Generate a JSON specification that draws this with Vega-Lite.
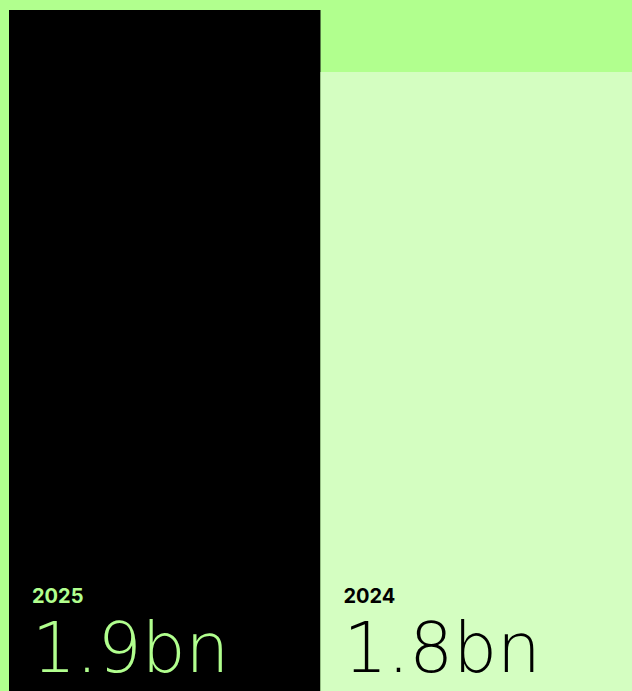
{
  "$schema": "https://vega.github.io/schema/vega-lite/v6.json",
  "autosize": {"type": "none"},
  "width": 623,
  "height": 691,
  "padding": {"left": 9, "top": 0, "right": 0, "bottom": 0},
  "background": "#b1ff8e",
  "config": {"view": {"stroke": null}},
  "data": {"values": [
    {"year": "2025", "value": 1.9, "label": "1.9bn"},
    {"year": "2024", "value": 1.8, "label": "1.8bn"}
  ]},
  "encoding": {
    "x": {"field": "year", "type": "nominal", "sort": ["2025", "2024"], "axis": null,
          "scale": {"paddingInner": 0, "paddingOuter": 0}}
  },
  "layer": [
    {
      "mark": {"type": "bar"},
      "encoding": {
        "y": {"field": "value", "type": "quantitative", "axis": null,
              "scale": {"domain": [0.8016, 1.9161], "zero": false, "nice": false}},
        "y2": {"datum": 0.8016},
        "color": {"field": "year", "type": "nominal", "legend": null,
                  "scale": {"domain": ["2025", "2024"], "range": ["#000000", "#d4fec1"]}}
      }
    },
    {
      "mark": {"type": "text", "align": "left", "baseline": "alphabetic", "dx": 23,
               "font": "Inter", "fontWeight": "bold", "fontSize": 20},
      "encoding": {
        "x": {"field": "year", "type": "nominal", "sort": ["2025", "2024"], "bandPosition": 0},
        "y": {"datum": 0.9435},
        "text": {"field": "year"},
        "color": {"field": "year", "type": "nominal", "legend": null,
                  "scale": {"domain": ["2025", "2024"], "range": ["#b1ff8e", "#000000"]}}
      }
    },
    {
      "mark": {"type": "text", "align": "left", "baseline": "alphabetic", "dx": 23,
               "font": "DejaVu Sans", "fontWeight": 200, "fontSize": 69},
      "encoding": {
        "x": {"field": "year", "type": "nominal", "sort": ["2025", "2024"], "bandPosition": 0},
        "y": {"datum": 0.832},
        "text": {"field": "label"},
        "color": {"field": "year", "type": "nominal", "legend": null,
                  "scale": {"domain": ["2025", "2024"], "range": ["#b1ff8e", "#000000"]}}
      }
    }
  ],
  "resolve": {"scale": {"color": "independent"}}
}
